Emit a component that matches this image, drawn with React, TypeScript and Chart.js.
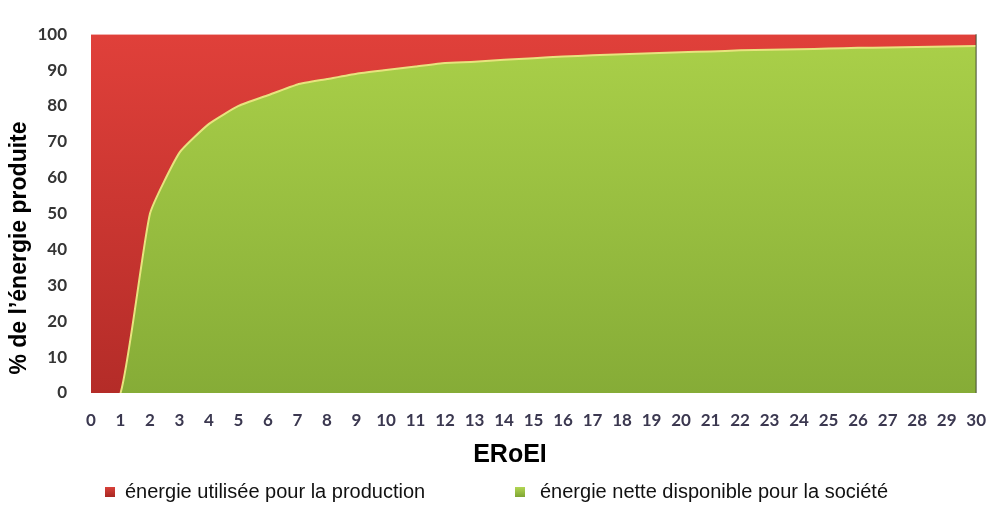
import React, { useEffect, useRef } from "react";
import { Chart, registerables } from "chart.js";

Chart.register(...registerables);

const eroeiLabels: string[] = [
  "0", "1", "2", "3", "4", "5", "6", "7", "8", "9", "10", "11", "12", "13", "14", "15",
  "16", "17", "18", "19", "20", "21", "22", "23", "24", "25", "26", "27", "28", "29", "30",
];

const netEnergy: number[] = [
  0, 0, 50, 67, 75, 80, 83, 86, 87.5, 89, 90, 91, 92, 92.3, 92.9, 93.3, 93.8, 94.1, 94.4,
  94.7, 95, 95.2, 95.5, 95.7, 95.8, 96, 96.2, 96.3, 96.4, 96.6, 96.7,
];

const usedEnergy: number[] = [
  100, 100, 50, 33, 25, 20, 17, 14, 12.5, 11, 10, 9, 8, 7.7, 7.1, 6.7, 6.2, 5.9, 5.6, 5.3,
  5, 4.8, 4.5, 4.3, 4.2, 4, 3.8, 3.7, 3.6, 3.4, 3.3,
];

const yTicks: number[] = [0, 10, 20, 30, 40, 50, 60, 70, 80, 90, 100];

const usedLabel = "énergie utilisée pour la production";
const netLabel = "énergie nette disponible pour la société";
const xTitle = "ERoEI";
const yTitle = "% de l’énergie produite";

function vGrad(chart: any, top: string, bottom: string) {
  const area = chart.chartArea;
  if (!area) return top;
  const g = chart.ctx.createLinearGradient(0, area.top, 0, area.bottom);
  g.addColorStop(0, top);
  g.addColorStop(1, bottom);
  return g;
}

export default function App() {
  const ref = useRef<HTMLCanvasElement | null>(null);

  useEffect(() => {
    const canvas = ref.current;
    if (!canvas) return;

    const textPlugin = {
      id: "texts",
      afterDatasetsDraw(chart: any) {
        const { ctx, chartArea } = chart;
        ctx.save();
        ctx.strokeStyle = "rgba(70,80,50,0.7)";
        ctx.lineWidth = 1.5;
        ctx.beginPath();
        ctx.moveTo(chartArea.right, chartArea.top);
        ctx.lineTo(chartArea.right, chartArea.bottom);
        ctx.stroke();
        ctx.restore();
      },
      afterDraw(chart: any) {
        const ctx = chart.ctx;
        ctx.save();
        // x title
        ctx.fillStyle = "#000";
        ctx.font = "bold 25px 'Liberation Sans', Arial, sans-serif";
        ctx.textAlign = "center";
        ctx.textBaseline = "middle";
        ctx.fillText(xTitle, 510, 455);
        // y title
        ctx.save();
        ctx.translate(20, 248);
        ctx.rotate(-Math.PI / 2);
        ctx.font = "bold 23px 'Liberation Sans', Arial, sans-serif";
        ctx.fillText(yTitle, 0, 0);
        ctx.restore();
        // legend
        ctx.font = "20px 'Liberation Sans', Arial, sans-serif";
        ctx.textAlign = "left";
        const items = [
          { x: 105, tx: 125, color1: "#d8413a", color2: "#a82723", text: chart.data.datasets[1].label },
          { x: 515, tx: 540, color1: "#b2d653", color2: "#7fa534", text: chart.data.datasets[0].label },
        ];
        for (const it of items) {
          const g = ctx.createLinearGradient(0, 487, 0, 497);
          g.addColorStop(0, it.color1);
          g.addColorStop(1, it.color2);
          ctx.fillStyle = g;
          ctx.fillRect(it.x, 487, 10, 10);
          ctx.fillStyle = "#111";
          ctx.fillText(it.text, it.tx, 492);
        }
        ctx.restore();
      },
    };

    const chart = new Chart(canvas, {
      type: "line",
      data: {
        labels: eroeiLabels,
        datasets: [
          {
            label: netLabel,
            data: netEnergy,
            fill: "origin",
            backgroundColor: (c: any) => vGrad(c.chart, "#aad049", "#86ac37"),
            borderColor: "#e8e37e",
            borderWidth: 2,
            pointRadius: 0,
            tension: 0.15,
            segment: {
              borderColor: (s: any) =>
                s.p0.parsed.y === 0 && s.p1.parsed.y === 0 ? "rgba(0,0,0,0)" : undefined,
            },
            order: 0,
          },
          {
            label: usedLabel,
            data: usedEnergy,
            fill: "origin",
            backgroundColor: (c: any) => vGrad(c.chart, "#e0403a", "#b42c28"),
            borderColor: "rgba(0,0,0,0)",
            borderWidth: 0,
            pointRadius: 0,
            tension: 0,
            order: 1,
          },
        ],
      },
      options: {
        responsive: false,
        animation: false,
        devicePixelRatio: 1,
        layout: { padding: { top: 24, right: 9, left: 0, bottom: 0 } },
        plugins: {
          legend: { display: false },
          tooltip: { enabled: false },
        },
        scales: {
          x: {
            stacked: true,
            offset: false,
            grid: { display: false, drawTicks: false },
            border: { display: false },
            ticks: {
              autoSkip: false,
              maxRotation: 0,
              padding: 17,
              color: "#3b3850",
              font: { family: "Lato", weight: "bold", size: 17 },
            },
            afterFit: (s: any) => {
              s.height = 113;
            },
          },
          y: {
            stacked: true,
            min: 0,
            max: 100,
            afterBuildTicks: (s: any) => {
              s.ticks = yTicks.map((v) => ({ value: v }));
            },
            grid: { display: false, drawTicks: false },
            border: { display: false },
            ticks: {
              padding: 24,
              color: "#353535",
              font: { family: "Lato", weight: "bold", size: 17 },
            },
            afterFit: (s: any) => {
              s.width = 91;
            },
          },
        },
      },
      plugins: [textPlugin],
    });

    return () => chart.destroy();
  }, []);

  return (
    <div style={{ position: "fixed", left: 0, top: 0, width: 1003, height: 506, background: "#fff" }}>
      <canvas ref={ref} width={1003} height={506} style={{ display: "block" }} />
    </div>
  );
}
